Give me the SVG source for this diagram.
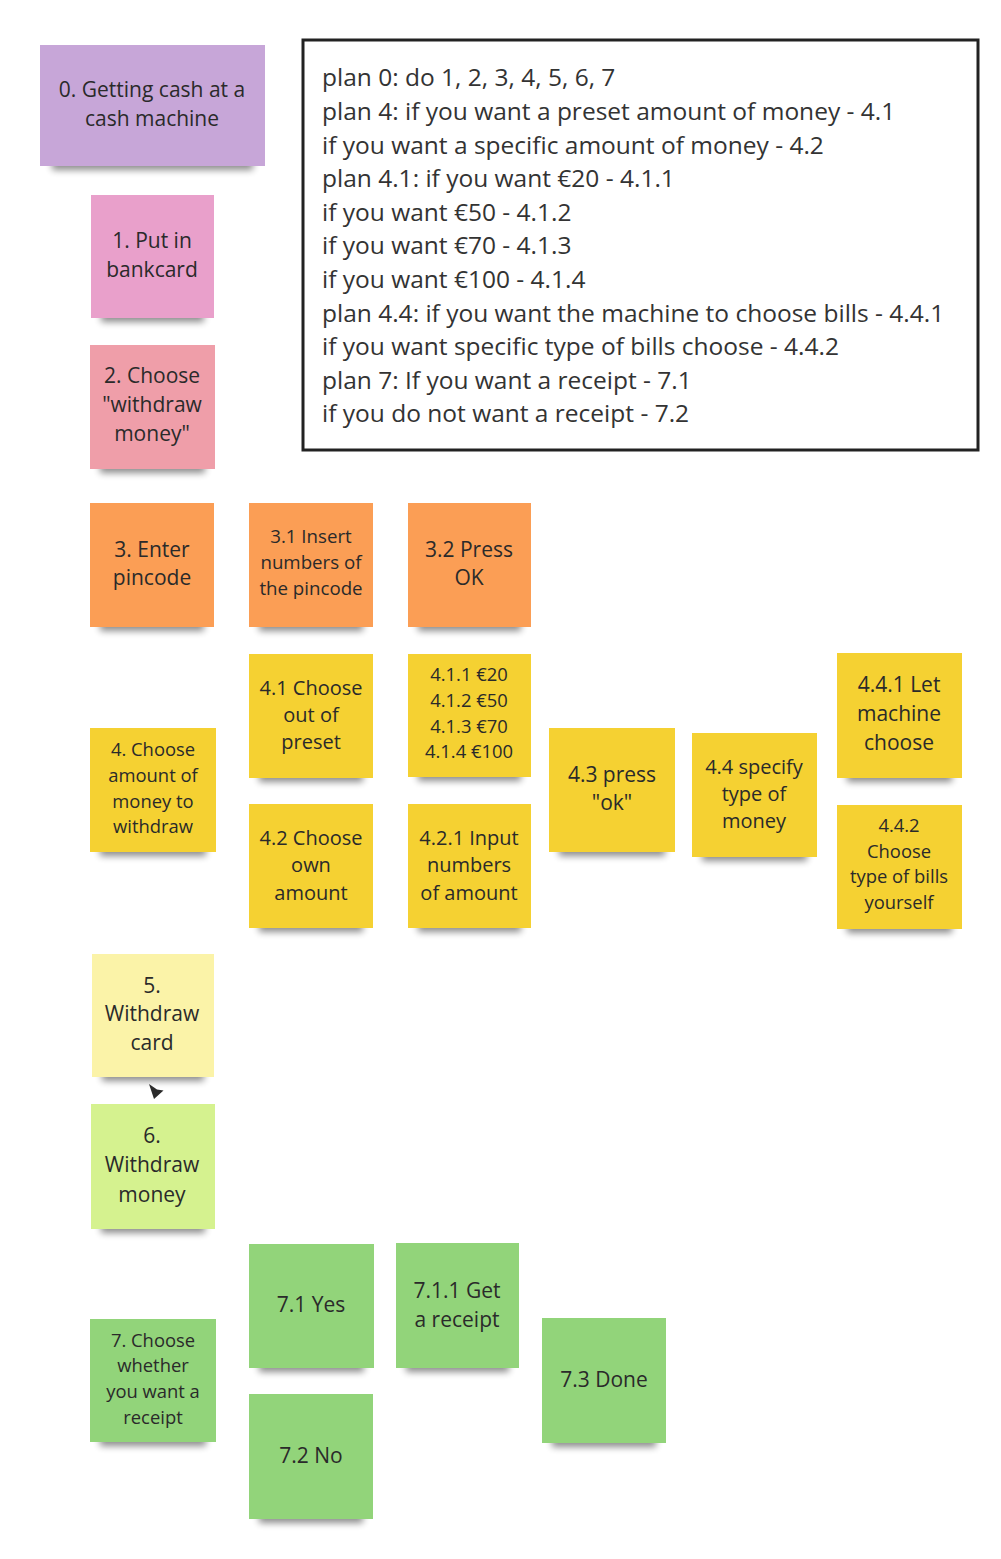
<svg xmlns="http://www.w3.org/2000/svg" width="1001" height="1559" viewBox="0 0 1001 1559">
<style>
text{font-family:"Open Sans","Noto Sans","Liberation Sans",sans-serif;fill:#2a2a2a;text-anchor:middle}
.p0{fill:#c7a6d8}.p1{fill:#e9a0cb}.p2{fill:#ef9ea9}.p3{fill:#fb9e55}.p4{fill:#f5d132}.p5{fill:#fbf3a8}.p6{fill:#d5f28f}.p7{fill:#92d47a}
.sh{fill:#000;opacity:.45;filter:url(#blur)}
.L{font-size:21px}.n{font-size:20px}.s{font-size:18.7px}.t{font-size:18.4px}
.plan{font-size:24.5px;text-anchor:start;fill:#333}
</style>
<defs>
<filter id="blur" x="-20%" y="-100%" width="140%" height="300%"><feGaussianBlur stdDeviation="3.5"/></filter>
</defs>

<g id="plan-box">
<rect x="303" y="40" width="675" height="410" fill="#fff" stroke="#222" stroke-width="3"/>
<text class="plan" x="322" y="86">plan 0: do 1, 2, 3, 4, 5, 6, 7</text>
<text class="plan" x="322" y="120">plan 4: if you want a preset amount of money - 4.1</text>
<text class="plan" x="322" y="154">if you want a specific amount of money - 4.2</text>
<text class="plan" x="322" y="187">plan 4.1: if you want €20 - 4.1.1</text>
<text class="plan" x="322" y="221">if you want €50 - 4.1.2</text>
<text class="plan" x="322" y="254">if you want €70 - 4.1.3</text>
<text class="plan" x="322" y="288">if you want €100 - 4.1.4</text>
<text class="plan" x="322" y="322">plan 4.4: if you want the machine to choose bills - 4.4.1</text>
<text class="plan" x="322" y="355">if you want specific type of bills choose - 4.4.2</text>
<text class="plan" x="322" y="389">plan 7: If you want a receipt - 7.1</text>
<text class="plan" x="322" y="422">if you do not want a receipt - 7.2</text>
</g>

<g id="n0"><rect class="sh" x="52" y="158" width="201" height="12"/><rect class="p0" x="40" y="45" width="225" height="121"/>
<text class="L" x="152" y="97">0. Getting cash at a</text><text class="L" x="152" y="126">cash machine</text></g>

<g id="n1"><rect class="sh" x="101" y="310" width="103" height="12"/><rect class="p1" x="91" y="195" width="123" height="123"/>
<text class="L" x="152" y="248">1. Put in</text><text class="L" x="152" y="277">bankcard</text></g>

<g id="n2"><rect class="sh" x="100" y="461" width="105" height="12"/><rect class="p2" x="90" y="345" width="125" height="124"/>
<text class="L" x="152" y="383">2. Choose</text><text class="L" x="152" y="412">"withdraw</text><text class="L" x="152" y="441">money"</text></g>

<g id="n3"><rect class="sh" x="100" y="619" width="104" height="12"/><rect class="p3" x="90" y="503" width="124" height="124"/>
<text class="L" x="152" y="557">3. Enter</text><text class="L" x="152" y="585">pincode</text></g>

<g id="n3-1"><rect class="sh" x="259" y="619" width="104" height="12"/><rect class="p3" x="249" y="503" width="124" height="124"/>
<text class="s" x="311" y="543">3.1 Insert</text><text class="s" x="311" y="569">numbers of</text><text class="s" x="311" y="595">the pincode</text></g>

<g id="n3-2"><rect class="sh" x="418" y="619" width="103" height="12"/><rect class="p3" x="408" y="503" width="123" height="124"/>
<text class="L" x="469" y="557">3.2 Press</text><text class="L" x="469" y="585">OK</text></g>

<g id="n4"><rect class="sh" x="100" y="844" width="106" height="12"/><rect class="p4" x="90" y="728" width="126" height="124"/>
<text class="t" x="153" y="756">4. Choose</text><text class="t" x="153" y="782">amount of</text><text class="t" x="153" y="808">money to</text><text class="t" x="153" y="833">withdraw</text></g>

<g id="n4-1"><rect class="sh" x="259" y="770" width="104" height="12"/><rect class="p4" x="249" y="654" width="124" height="124"/>
<text class="n" x="311" y="695">4.1 Choose</text><text class="n" x="311" y="722">out of</text><text class="n" x="311" y="749">preset</text></g>

<g id="n4-1-x"><rect class="sh" x="418" y="769" width="103" height="12"/><rect class="p4" x="408" y="654" width="123" height="123"/>
<text class="t" x="469" y="681">4.1.1 €20</text><text class="t" x="469" y="707">4.1.2 €50</text><text class="t" x="469" y="733">4.1.3 €70</text><text class="t" x="469" y="758">4.1.4 €100</text></g>

<g id="n4-2"><rect class="sh" x="259" y="920" width="104" height="12"/><rect class="p4" x="249" y="804" width="124" height="124"/>
<text class="n" x="311" y="845">4.2 Choose</text><text class="n" x="311" y="872">own</text><text class="n" x="311" y="900">amount</text></g>

<g id="n4-2-1"><rect class="sh" x="418" y="920" width="103" height="12"/><rect class="p4" x="408" y="804" width="123" height="124"/>
<text class="n" x="469" y="845">4.2.1 Input</text><text class="n" x="469" y="872">numbers</text><text class="n" x="469" y="900">of amount</text></g>

<g id="n4-3"><rect class="sh" x="559" y="844" width="106" height="12"/><rect class="p4" x="549" y="728" width="126" height="124"/>
<text class="L" x="612" y="782">4.3 press</text><text class="L" x="612" y="810">"ok"</text></g>

<g id="n4-4"><rect class="sh" x="702" y="849" width="105" height="12"/><rect class="p4" x="692" y="733" width="125" height="124"/>
<text class="n" x="754" y="774">4.4 specify</text><text class="n" x="754" y="801">type of</text><text class="n" x="754" y="828">money</text></g>

<g id="n4-4-1"><rect class="sh" x="847" y="770" width="105" height="12"/><rect class="p4" x="837" y="653" width="125" height="125"/>
<text class="L" x="899" y="692">4.4.1 Let</text><text class="L" x="899" y="721">machine</text><text class="L" x="899" y="750">choose</text></g>

<g id="n4-4-2"><rect class="sh" x="847" y="921" width="105" height="12"/><rect class="p4" x="837" y="805" width="125" height="124"/>
<text class="t" x="899" y="832">4.4.2</text><text class="t" x="899" y="858">Choose</text><text class="t" x="899" y="883">type of bills</text><text class="t" x="899" y="909">yourself</text></g>

<g id="n5"><rect class="sh" x="102" y="1069" width="102" height="12"/><rect class="p5" x="92" y="954" width="122" height="123"/>
<text class="L" x="152" y="993">5.</text><text class="L" x="152" y="1021">Withdraw</text><text class="L" x="152" y="1050">card</text></g>

<g id="n6"><rect class="sh" x="101" y="1221" width="104" height="12"/><rect class="p6" x="91" y="1104" width="124" height="125"/>
<text class="L" x="152" y="1143">6.</text><text class="L" x="152" y="1172">Withdraw</text><text class="L" x="152" y="1202">money</text></g>

<g id="n7"><rect class="sh" x="100" y="1434" width="106" height="12"/><rect class="p7" x="90" y="1319" width="126" height="123"/>
<text class="t" x="153" y="1347">7. Choose</text><text class="t" x="153" y="1372">whether</text><text class="t" x="153" y="1398">you want a</text><text class="t" x="153" y="1424">receipt</text></g>

<g id="n7-1"><rect class="sh" x="259" y="1360" width="105" height="12"/><rect class="p7" x="249" y="1244" width="125" height="124"/>
<text class="L" x="311" y="1312">7.1 Yes</text></g>

<g id="n7-1-1"><rect class="sh" x="406" y="1360" width="103" height="12"/><rect class="p7" x="396" y="1243" width="123" height="125"/>
<text class="L" x="457" y="1298">7.1.1 Get</text><text class="L" x="457" y="1327">a receipt</text></g>

<g id="n7-2"><rect class="sh" x="259" y="1511" width="104" height="12"/><rect class="p7" x="249" y="1394" width="124" height="125"/>
<text class="L" x="311" y="1463">7.2 No</text></g>

<g id="n7-3"><rect class="sh" x="552" y="1435" width="104" height="12"/><rect class="p7" x="542" y="1318" width="124" height="125"/>
<text class="L" x="604" y="1387">7.3 Done</text></g>

<g id="connectors">
<path d="M149,1084 L157,1089.5 L163.5,1090.5 L154,1099 Z" fill="#2b2b2b"/>
</g>
</svg>
